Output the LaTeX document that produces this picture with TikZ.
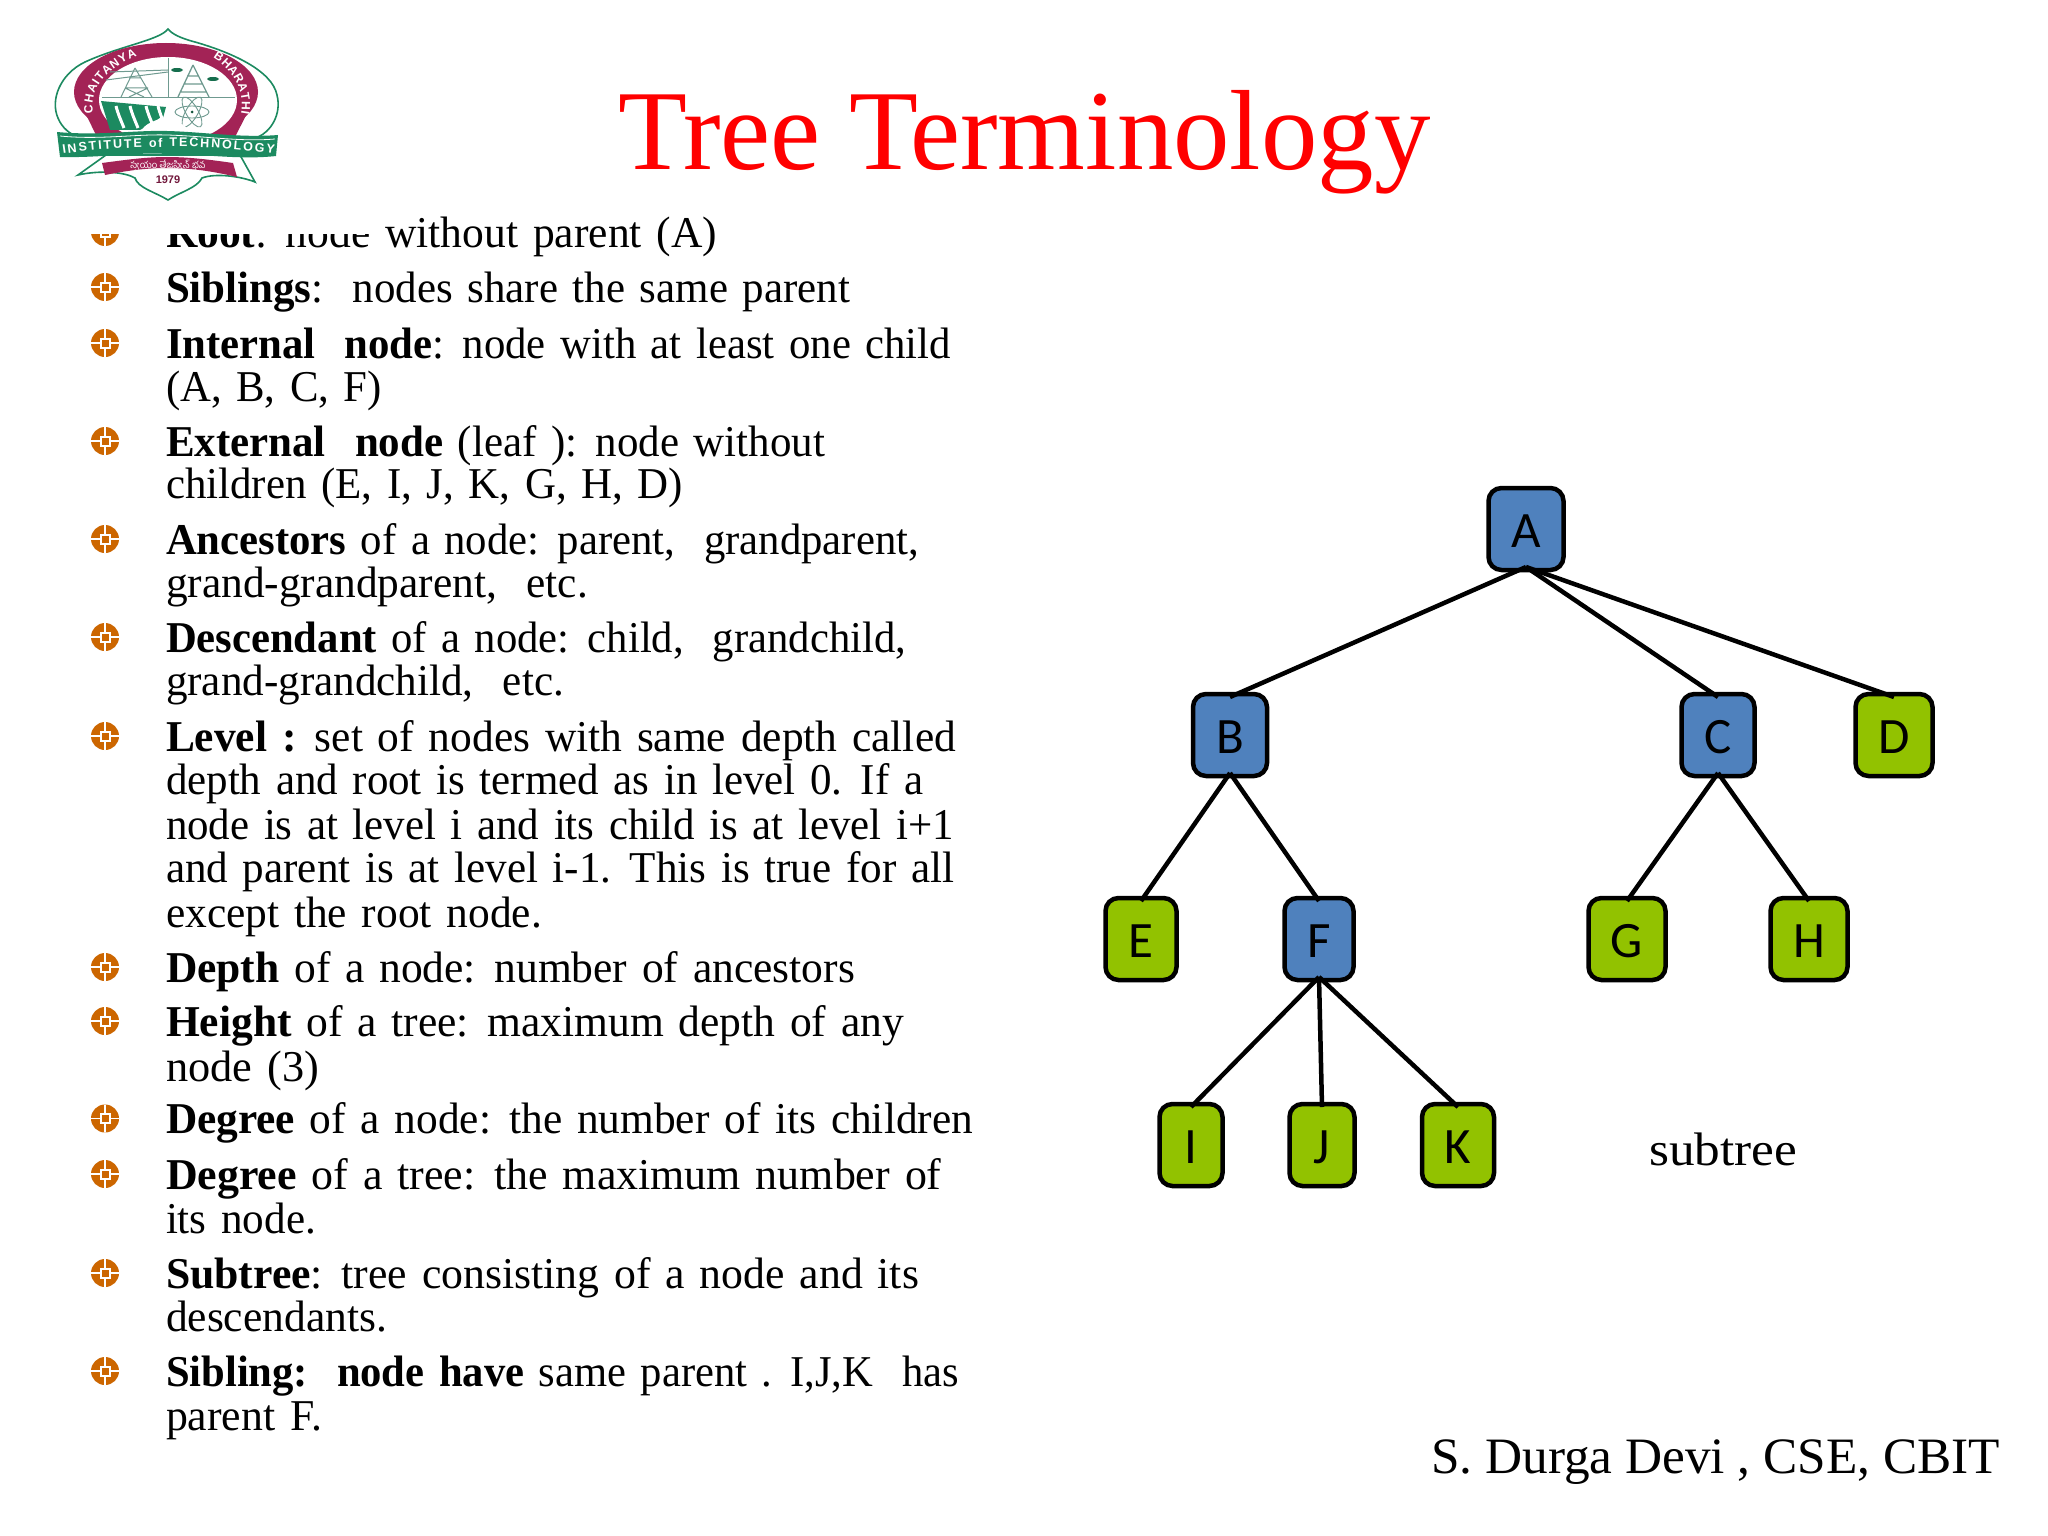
\documentclass[tikz,border=0pt]{standalone}
\usepackage{fontspec}
\usepackage{graphicx}
\setmainfont{Liberation Serif}
\newfontfamily\carl{Carlito}
\newfontfamily\lsans{Liberation Sans}
\newfontfamily\telugu[Script=Telugu]{Hind Guntur}
\usetikzlibrary{decorations.text}
\definecolor{nodeblue}{HTML}{4F81BD}
\definecolor{nodegreen}{HTML}{92C200}
\definecolor{bulletorange}{HTML}{CC6600}
\definecolor{logogreen}{HTML}{1C8A60}
\definecolor{logored}{HTML}{A32356}
\definecolor{logoline}{HTML}{6F9A90}
\tikzset{
  x=1pt,y=-1pt,
  txt/.style={anchor=base west,inner sep=0pt,outer sep=0pt,font=\fontsize{44}{44}\selectfont},
  treebox/.style={draw=black,rounded corners=13pt,line width=4.5pt,minimum height=82pt,inner sep=0pt,outer sep=0pt,text=black,font=\carl\fontsize{51}{51}\selectfont,text height=36pt,text depth=0pt},
  innerbox/.style={treebox,fill=nodeblue},
  leafbox/.style={treebox,fill=nodegreen},
  treeedge/.style={draw=black,line width=4.5pt},
  bulletmark/.style={circle,fill=bulletorange,minimum size=28pt,inner sep=0pt,outer sep=0pt,
    path picture={
      \draw[white,line width=1.4pt] (path picture bounding box.north) -- (path picture bounding box.south);
      \draw[white,line width=1.4pt] (path picture bounding box.west) -- (path picture bounding box.east);
      \fill[white] ([shift={(-5.5pt,-5.5pt)}]path picture bounding box.center) rectangle ([shift={(5.5pt,5.5pt)}]path picture bounding box.center);
      \fill[bulletorange] ([shift={(-3.5pt,-3.5pt)}]path picture bounding box.center) rectangle ([shift={(3.5pt,3.5pt)}]path picture bounding box.center);
    }},
  logothin/.style={draw=logoline,line width=1pt},
}
% name, baseline y, right end x, text
\newcommand\tline[4]{\node[txt] (#1) at (166,#2) {\spaceskip=.34em\relax\resizebox{\dimexpr #3pt-166pt\relax}{\height}{#4}};}
\begin{document}
\begin{tikzpicture}
\useasboundingbox (0,0) rectangle (2048,1536);
\fill[white] (0,0) rectangle (2048,1536);

% bullets
\foreach \i/\yy in {1/247,2/302,3/358,4/456,5/554,6/652,7/751,8/982,9/1036,10/1133.5,11/1189,12/1288,13/1386}
  \node[bulletmark] (b\i) at (105,\yy-15) {};

% text lines
\tline{t1}{247}{717}{\textbf{Root}: node without parent (A)}
\tline{t2}{302}{850}{\textbf{Siblings}:\ \ nodes share the same parent}
\tline{t3}{358}{951}{\textbf{Internal\ \ node}: node with at least one child}
\tline{t4}{401}{382}{(A, B, C, F)}
\tline{t5}{456}{825}{\textbf{External\ \ node} (leaf ): node without}
\tline{t6}{498}{683}{children (E, I, J, K, G, H, D)}
\tline{t7}{554}{919}{\textbf{Ancestors} of a node: parent,\ \ grandparent,}
\tline{t8}{597}{588}{grand-grandparent,\ \ etc.}
\tline{t9}{652}{906}{\textbf{Descendant} of a node: child,\ \ grandchild,}
\tline{t10}{695}{564}{grand-grandchild,\ \ etc.}
\tline{t11}{751}{956}{\textbf{Level :} set of nodes with same depth called}
\tline{t12}{794}{923}{depth and root is termed as in level 0. If a}
\tline{t13}{839}{954}{node is at level i and its child is at level i+1}
\tline{t14}{882}{954}{and parent is at level i-1. This is true for all}
\tline{t15}{927}{542}{except the root node.}
\tline{t16}{982}{855}{\textbf{Depth} of a node: number of ancestors}
\tline{t17}{1036}{904}{\textbf{Height} of a tree: maximum depth of any}
\tline{t18}{1081}{319}{node (3)}
\tline{t19}{1133.5}{973}{\textbf{Degree} of a node: the number of its children}
\tline{t20}{1189}{941.5}{\textbf{Degree} of a tree: the maximum number of}
\tline{t21}{1233}{316}{its node.}
\tline{t22}{1288}{919}{\textbf{Subtree}: tree consisting of a node and its}
\tline{t23}{1331}{387}{descendants.}
\tline{t24}{1386}{959}{\textbf{Sibling:\ \ node have} same parent . I,J,K\ \ has}
\tline{t25}{1430}{322}{parent F.}

% title and footers
\node[anchor=base west,inner sep=0pt,text=red,font=\fontsize{114}{114}\selectfont] (title) at (618,170) {\resizebox{812pt}{\height}{Tree Terminology}};
\node[anchor=base west,inner sep=0pt,font=\fontsize{51}{51}\selectfont] (author) at (1431,1473) {\resizebox{569pt}{\height}{S. Durga Devi , CSE, CBIT}};
\node[anchor=base west,inner sep=0pt,font=\fontsize{47}{47}\selectfont] (subtreelabel) at (1649,1165) {\resizebox{148pt}{\height}{subtree}};

% tree
\node[innerbox,minimum width=75pt] (A) at (1526,529) {A};
\node[innerbox,minimum width=74pt] (B) at (1230,735) {B};
\node[innerbox,minimum width=73pt] (C) at (1718,735) {C};
\node[leafbox,minimum width=77pt] (D) at (1894,735) {D};
\node[leafbox,minimum width=71pt] (E) at (1141,939) {E};
\node[innerbox,minimum width=69pt] (F) at (1319,939) {F};
\node[leafbox,minimum width=77pt] (G) at (1627,939) {G};
\node[leafbox,minimum width=77pt] (H) at (1809,939) {H};
\node[leafbox,minimum width=63pt] (I) at (1191,1145) {I};
\node[leafbox,minimum width=65pt] (J) at (1322,1145) {J};
\node[leafbox,minimum width=72pt] (K) at (1458,1145) {K};
\foreach \p/\c in {A/B,A/C,A/D,B/E,B/F,C/G,C/H,F/I,F/J,F/K}
  \draw[treeedge] ([yshift=3pt]\p.south) -- ([yshift=-3pt]\c.north);

% logo: opaque image cuts the first text line
\fill[white] (0,0) rectangle (372,234);
\begin{scope}
  % outer lobes
  \filldraw[fill=white,draw=logogreen,line width=1.6pt]
    (168,29) .. controls (160,40) and (120,46) .. (85,62) .. controls (60,74) and (50,100) .. (58,118)
    .. controls (62,128) and (70,134) .. (78,137) -- (258,137)
    .. controls (270,132) and (282,115) .. (277,95) .. controls (272,70) and (230,52) .. (195,42) .. controls (180,38) and (172,34) .. (168,29) -- cycle;
  % ring
  \fill[logored] (166,92) ellipse [x radius=92, y radius=49];
  \fill[logored] (75,92) -- (258,92) -- (235,137) -- (97,137) -- cycle;
  \fill[white] (168,100) ellipse [x radius=69, y radius=43];
  % ring lettering
  \path[decorate,decoration={text along path,text align={fit to path},
     text={|\lsans\bfseries\fontsize{12}{12}\selectfont\color{white}|CHAITANYA}}]
     (93,113) .. controls (89,90) and (106,68) .. (137,56);
  \path[decorate,decoration={text along path,text align={fit to path},
     text={|\lsans\bfseries\fontsize{12}{12}\selectfont\color{white}|BHARATHI}}]
     (213,58) .. controls (228,66) and (246,88) .. (241,114);
  % quadrant lines
  \draw[logoline,line width=1pt] (102,98) -- (235,98);
  \draw[logoline,line width=1pt] (168,58) -- (168,98);
  % pylon
  \draw[logothin] (135,68) -- (121,97) (135,68) -- (152,97) (125,88) -- (148,88) (129,78) -- (141,78) (125,88) -- (144,97) (148,88) -- (129,97);
  \draw[logothin] (106,80) -- (168,72) (110,72) -- (168,70);
  % tower
  \draw[logoline,line width=1.3pt] (193,65) -- (178,97) (193,65) -- (209,97) (184,84) -- (203,84) (187,76) -- (199,76) (180,92) -- (206,92);
  \fill[logogreen!80!black] (177,70) ellipse [x radius=6, y radius=2];
  \fill[logogreen!80!black] (213,79) ellipse [x radius=6, y radius=2];
  % dam
  \fill[logogreen] (101,101) -- (166,107) -- (163,118) -- (140,130) -- (110,130) -- cycle;
  \foreach \sx in {116,130,146,158}
    \draw[white,line width=3pt] (\sx,106) .. controls (\sx+2,114) and (\sx+4,118) .. (\sx+8,128);
  % atom
  \foreach \ang in {0,60,120}
    \draw[logoline,line width=.9pt,rotate around={\ang:(192,112)}] (192,112) ellipse [x radius=17, y radius=6];
  \fill[logogreen!60!black] (192,112) circle [radius=1.5];
  % cloud
  \fill[white] (140,133) .. controls (145,122) and (155,122) .. (160,118) .. controls (170,116) and (175,122) .. (182,124) .. controls (188,128) and (190,132) .. (188,137) -- (140,137) -- cycle;
  % lower leaves
  \filldraw[fill=white,draw=logogreen,line width=1.6pt]
    (106,155) -- (78,175) .. controls (100,170) and (125,172) .. (135,178) .. controls (138,188) and (155,192) .. (168,200)
    .. controls (180,192) and (197,188) .. (202,178) .. controls (215,173) and (240,176) .. (255,182) -- (240,155) -- cycle;
  % banner
  \fill[logogreen] (57,132) .. controls (100,136) and (135,130) .. (167,131) .. controls (205,132) and (240,138) .. (278,135)
     -- (276,156) .. controls (240,160) and (205,154) .. (167,154) .. controls (135,152) and (100,158) .. (60,157) -- cycle;
  \draw[white,line width=.8pt] (60,136) .. controls (100,140) and (135,134) .. (167,135) .. controls (205,136) and (240,142) .. (275,139);
  \path[decorate,decoration={text along path,text align={fit to path},
     text={|\lsans\bfseries\fontsize{12.5}{12.5}\selectfont\color{white}|INSTITUTE of TECHNOLOGY}}]
     (63,154) .. controls (110,147) and (135,148) .. (167,147) .. controls (205,146) and (240,149) .. (274,154);
  % small motto banner
  \fill[logored] (102,163) .. controls (125,160) and (145,157) .. (167,157) .. controls (190,157) and (212,160) .. (233,163)
     -- (237,177) .. controls (212,171) and (190,168) .. (167,168) .. controls (145,168) and (125,171) .. (105,175) -- cycle;
  \node[inner sep=0pt,text=white,font=\telugu\fontsize{9.5}{9.5}\selectfont] (motto) at (168,166) {స్వయం తేజస్విన్ భవ};
  \node[inner sep=0pt,text=logored!70!black,font=\lsans\bfseries\fontsize{11}{11}\selectfont] (year) at (168,180) {1979};
\end{scope}
\end{tikzpicture}
\end{document}
